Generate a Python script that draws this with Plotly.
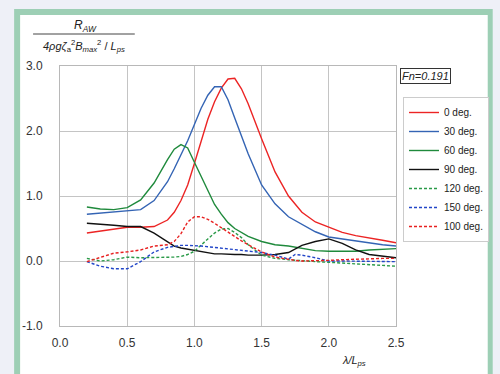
import plotly.graph_objects as go

# ---------------- data ----------------
x_vals = [0.2, 0.3, 0.4, 0.5, 0.6, 0.7, 0.8, 0.85, 0.9, 0.95, 1.0, 1.05, 1.1, 1.15, 1.2,
          1.25, 1.3, 1.35, 1.4, 1.5, 1.6, 1.7, 1.75, 1.8, 1.9, 2.0, 2.1, 2.2, 2.3, 2.4, 2.5]

deg0 = [0.43, 0.46, 0.49, 0.52, 0.52, 0.53, 0.63, 0.75, 0.93, 1.17, 1.50, 1.83, 2.18, 2.45, 2.66,
        2.80, 2.81, 2.65, 2.42, 1.88, 1.37, 1.00, 0.87, 0.75, 0.60, 0.52, 0.44, 0.39, 0.36, 0.32, 0.28]
deg30 = [0.72, 0.74, 0.76, 0.77, 0.79, 0.93, 1.22, 1.42, 1.63, 1.85, 2.10, 2.35, 2.55, 2.68, 2.68,
         2.48, 2.20, 1.92, 1.65, 1.17, 0.88, 0.68, 0.62, 0.56, 0.45, 0.37, 0.34, 0.30, 0.27, 0.25, 0.23]
deg60 = [0.83, 0.80, 0.79, 0.82, 0.94, 1.20, 1.56, 1.72, 1.79, 1.74, 1.52, 1.30, 1.09, 0.87, 0.72,
         0.59, 0.50, 0.44, 0.38, 0.30, 0.25, 0.23, 0.21, 0.19, 0.16, 0.15, 0.15, 0.15, 0.17, 0.18, 0.19]
deg90 = [0.58, 0.57, 0.55, 0.53, 0.53, 0.43, 0.29, 0.23, 0.20, 0.18, 0.16, 0.14, 0.12, 0.11, 0.11,
         0.10, 0.10, 0.10, 0.09, 0.09, 0.10, 0.13, 0.18, 0.24, 0.30, 0.34, 0.27, 0.17, 0.10, 0.07, 0.05]
deg120 = [0.04, 0.00, 0.02, 0.06, 0.05, 0.05, 0.05, 0.06, 0.07, 0.10, 0.15, 0.25, 0.34, 0.43, 0.49,
          0.50, 0.44, 0.36, 0.25, 0.09, 0.04, 0.02, 0.01, 0.00, -0.01, -0.02, -0.03, -0.05, -0.06, -0.07, -0.08]
deg150 = [-0.01, -0.08, -0.12, -0.12, -0.01, 0.14, 0.21, 0.23, 0.24, 0.24, 0.24, 0.23, 0.22, 0.21, 0.20,
          0.19, 0.18, 0.17, 0.16, 0.13, 0.09, 0.03, 0.10, 0.09, 0.05, 0.00, 0.00, 0.00, 0.00, -0.01, -0.01]
deg100 = [-0.01, 0.06, 0.12, 0.14, 0.17, 0.23, 0.25, 0.30, 0.42, 0.60, 0.68, 0.68, 0.64, 0.58, 0.51,
          0.44, 0.38, 0.31, 0.25, 0.14, 0.06, 0.02, 0.01, 0.00, 0.00, 0.01, 0.02, 0.03, 0.03, 0.04, 0.04]

series_names = ["0 deg.", "30 deg.", "60 deg.", "90 deg.", "120 deg.", "150 deg.", "100 deg."]
series_values = [deg0, deg30, deg60, deg90, deg120, deg150, deg100]

x_ticks = [0.0, 0.5, 1.0, 1.5, 2.0, 2.5]
x_tick_labels = ["0.0", "0.5", "1.0", "1.5", "2.0", "2.5"]
y_ticks = [-1.0, 0.0, 1.0, 2.0, 3.0]
y_tick_labels = ["-1.0", "0.0", "1.0", "2.0", "3.0"]

# ---------------- styles ----------------
styles = [
    dict(color="#ec2424", dash="solid"),
    dict(color="#3464b4", dash="solid"),
    dict(color="#1f8a3c", dash="solid"),
    dict(color="#111111", dash="solid"),
    dict(color="#2a9a48", dash="3px,2px"),
    dict(color="#2246c8", dash="3px,2px"),
    dict(color="#e82020", dash="3px,2px"),
]

W, H = 500, 374
L, R, T, B = 60, 397, 66, 326


def px(xp):
    return (xp - L) / (R - L)


def py(yp):
    return (B - yp) / (B - T)


fig = go.Figure()
for name, vals, st in zip(series_names, series_values, styles):
    fig.add_trace(go.Scatter(
        x=x_vals, y=vals, name=name, mode="lines",
        line=dict(color=st["color"], dash=st["dash"], width=1.4),
    ))

font_family = "Liberation Sans, Arial, sans-serif"

fig.update_layout(
    width=W, height=H,
    margin=dict(l=L, r=W - R, t=T, b=H - B, pad=0),
    paper_bgcolor="#eef0f7",
    plot_bgcolor="rgba(0,0,0,0)",
    font=dict(family=font_family, size=12, color="#333333"),
    showlegend=True,
    legend=dict(
        x=px(403), y=py(97), xanchor="left", yanchor="top",
        bgcolor="white", bordercolor="#cccccc", borderwidth=1,
        font=dict(size=10, color="#222222"),
        itemwidth=30, tracegroupgap=0,
    ),
    xaxis=dict(
        range=[0, 2.5], tickvals=x_ticks, ticktext=x_tick_labels,
        showgrid=True, gridcolor="#c4c4c4", gridwidth=1,
        showline=True, linecolor="#b8b8b8", linewidth=1, mirror=True,
        zeroline=False, ticks="", ticklabelstandoff=6,
        tickfont=dict(size=12, color="#333333"),
    ),
    yaxis=dict(
        range=[-1, 3], tickvals=y_ticks, ticktext=y_tick_labels,
        showgrid=True, gridcolor="#c4c4c4", gridwidth=1,
        showline=True, linecolor="#b8b8b8", linewidth=1, mirror=True,
        zeroline=False, ticks="", ticklabelstandoff=14,
        tickfont=dict(size=12, color="#333333"),
    ),
    shapes=[
        dict(type="rect", xref="paper", yref="paper", layer="below",
             x0=px(14), x1=px(494), y0=py(390), y1=py(9),
             fillcolor="#9dcfb5", line=dict(width=0)),
        dict(type="rect", xref="paper", yref="paper", layer="below",
             x0=px(20), x1=px(489), y0=py(390), y1=py(15),
             fillcolor="white", line=dict(width=0)),
        dict(type="line", xref="paper", yref="paper",
             x0=px(33), x1=px(135), y0=py(34), y1=py(34),
             line=dict(color="#444444", width=1)),
    ],
    annotations=[
        dict(xref="paper", yref="paper", x=px(86), y=py(26),
             text="<i>R</i><sub><i>AW</i></sub>", showarrow=False,
             font=dict(size=12, color="#222222"), xanchor="center", yanchor="middle"),
        dict(xref="paper", yref="paper", x=px(84), y=py(46),
             text="<i>4ρgζ</i><sub>a</sub><sup>2</sup><i>B</i><sub><i>max</i></sub><sup>2</sup> / <i>L</i><sub><i>ps</i></sub>",
             showarrow=False, font=dict(size=11, color="#222222"),
             xanchor="center", yanchor="middle"),
        dict(xref="paper", yref="paper", x=px(427), y=py(75.5),
             text="<i>Fn=0.191</i>", showarrow=False,
             font=dict(size=11, color="#222222"),
             bordercolor="#333333", borderwidth=1, borderpad=1,
             bgcolor="white", xanchor="center", yanchor="middle"),
        dict(xref="paper", yref="paper", x=px(355), y=py(361),
             text="<i>λ/L</i><sub><i>ps</i></sub>", showarrow=False,
             font=dict(size=11, color="#222222"), xanchor="center", yanchor="middle"),
    ],
)

fig.write_html(
    "out.html",
    config={"displayModeBar": False},
    post_script="document.body.style.margin='0';document.body.style.background='#eef0f7';",
)
